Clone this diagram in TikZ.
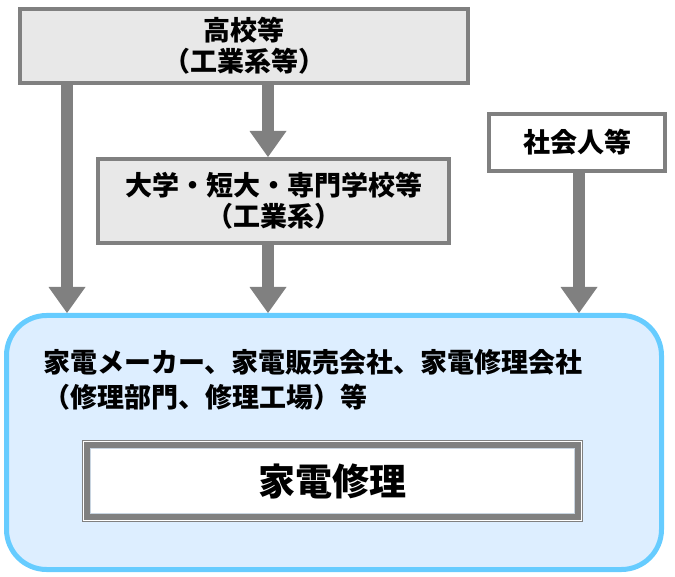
\documentclass[tikz,border=0pt]{standalone}
\usepackage{fontspec}
\setmainfont{Noto Sans CJK JP}
\usetikzlibrary{arrows.meta,calc}
\definecolor{boxgray}{HTML}{E8E8E8}
\definecolor{edgegray}{HTML}{808080}
\definecolor{skyfill}{HTML}{DDEEFF}
\definecolor{skyedge}{HTML}{66CCFF}
\definecolor{thinlight}{HTML}{C8D4E0}
\tikzset{
  graybox/.style={draw=edgegray, fill=boxgray, line width=4pt, align=center,
    font=\fontsize{27}{31}\selectfont\bfseries, inner sep=0pt},
  whitebox/.style={draw=edgegray, fill=white, line width=4pt, align=center,
    font=\fontsize{27}{31}\selectfont\bfseries, inner sep=0pt},
  arr/.style={draw=edgegray, line width=12pt,
    -{Triangle[width=37pt,length=26pt,line width=0pt]}},
}
\begin{document}
\begin{tikzpicture}[x=1pt,y=-1pt]
\useasboundingbox (0,0) rectangle (675,577);
% big container
\node[draw=skyedge, fill=skyfill, line width=5pt, rounded corners=40pt,
  minimum width=655pt, minimum height=254pt, inner sep=0pt] (big) at (334,442.5) {};
% sources
\node[graybox, minimum width=448pt, minimum height=74pt] (hs) at (244,46) {高校等\\（工業系等）};
\node[graybox, minimum width=351pt, minimum height=84pt] (univ) at (273.5,201) {大学・短大・専門学校等\\（工業系）};
\node[whitebox, minimum width=176pt, minimum height=57pt] (adult) at (577,142.5) {社会人等};
% description text
\node[anchor=west, align=left, inner sep=0pt, font=\fontsize{27}{35}\selectfont\bfseries] (desc) at (43,380)
  {家電メーカー、家電販売会社、家電修理会社\\（修理部門、修理工場）等};
% inner target box
\node[draw=edgegray, fill=white, line width=1pt, minimum width=500pt, minimum height=81pt,
  inner sep=0pt, font=\fontsize{37}{40}\selectfont\bfseries] (kd) at (332.5,481) {家電修理};
\draw[edgegray, line width=6pt] ($(kd.north west)+(5,5)$) rectangle ($(kd.south east)+(-5,-5)$);
\draw[thinlight, line width=1pt] ($(kd.north west)+(8.5,8.5)$) rectangle ($(kd.south east)+(-8.5,-8.5)$);
% arrows
\coordinate (c1) at (67,0);
\coordinate (c2) at (268,0);
\coordinate (c3) at (579,0);
\draw[arr] (hs.south -| c1) -- (big.north -| c1);
\draw[arr] (hs.south -| c2) -- (univ.north -| c2);
\draw[arr] (univ.south -| c2) -- (big.north -| c2);
\draw[arr] (adult.south -| c3) -- (big.north -| c3);
\end{tikzpicture}
\end{document}
